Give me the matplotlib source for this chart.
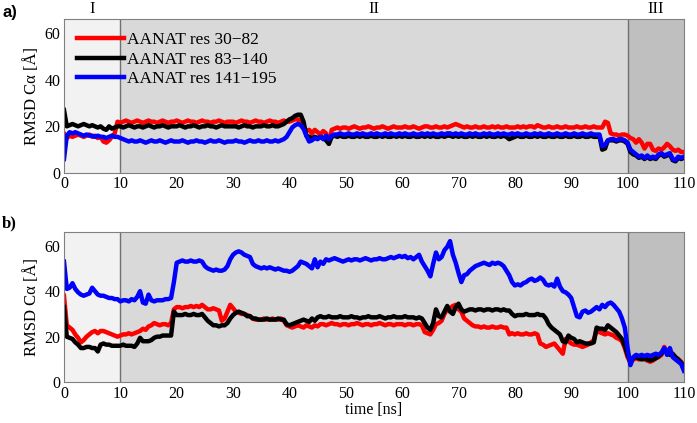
import numpy as np
import matplotlib
matplotlib.use('Agg')
import matplotlib.pyplot as plt

plt.rcParams['font.family'] = ['Liberation Serif', 'DejaVu Serif']

# time axis, 0.5 ns steps
t = np.arange(0, 110.5, 0.5)

# panel a) values
red_a = [17,15,16,15.5,16,16.5,16,15.5,16,16.5,15.5,16,15,15.5,13.5,13,14,15.5,17,22,
         21.5,22,22.5,22,21.5,22,22.5,22,21.5,22,22.5,22,22,21.5,22,22.5,22,21.5,22,22,
         22.5,22,21.5,22,22.5,22,22,21.5,22,22.5,22,22,21.5,22,22,22.5,22,21.5,22,22,
         22,21.5,22,22.5,22,22,21.5,22,22.5,22,22,21.5,22,22.5,22,22,21.5,22,22.5,22,
         22,22.5,23,23,21,19,18,18.5,17,18.5,17.5,16.5,18,17,12.5,18.5,19,19.5,19,19.5,
         19.5,19,19.5,20,19.5,19,19.5,19.5,20,19.5,19,19.5,19.5,20,19.5,19,19.5,20,19.5,19.5,
         19.5,20,19.5,19.5,20,19.5,19,19.5,20,20,19.5,19.5,20,19.5,19.5,20,19.5,20,20.5,21,
         20.5,20,19.5,20,19.5,19.5,20,19.5,19.5,20,19.5,19.5,20,19.5,20,19.5,19.5,20,19.5,19.5,
         19.5,20,19.5,20,19.5,20,20,19.5,20.5,20,19.5,19.5,20,19.5,19.5,20,19.5,19.5,20,19.5,
         19.5,19.5,20,19.5,19.5,20,19.5,19.5,20,19.5,19.5,19.5,22,21.5,17,16.5,16.5,16,16.5,16.5,
         16,15,14.5,13,14.5,13,10.5,12.5,12.5,10,9.5,10.5,10,11,12.5,11.5,10,9.5,10,9,9]
black_a = [27,20,20.5,21,20.5,20,20.5,21,20.5,20,20.5,20,19.5,20,19,18.5,20,19,19.5,20,
           20,19.5,20,20.5,20,19.5,20,20,19.5,20,20.5,20,19.5,20,20,20.5,20,19.5,20,20,
           20,20.5,20,19.5,20,20,20.5,20,19.5,20,20,20.5,20,20,19.5,20,20.5,20,20,20,
           20,20,19.5,20,20.5,20,20,19.5,20,20,20,20.5,20,20,20.5,20,20,20.5,21,22,
           23,23.5,24.5,25,25,22,16,15.5,15,15.5,15,15.5,15,14,12.5,15.5,16,15.5,16,15.5,
           15.5,16,15.5,15.5,16,15.5,16,15.5,15.5,16,15.5,15.5,16,15.5,16,15.5,15.5,16,15.5,16,
           15.5,16,15.5,15.5,16,15.5,15.5,16,15.5,16,15.5,16,15.5,15.5,16,15.5,16,16,15.5,16,
           15.5,16,15.5,15.5,16,15.5,16,15.5,15.5,16,15.5,16,15.5,15.5,16,15.5,16,15.5,14.5,15,
           15.5,16,15.5,15.5,16,15.5,15.5,16,15.5,16,15.5,15.5,16,15.5,15.5,16,15.5,15.5,16,15.5,
           15.5,16,15.5,15.5,16,15.5,15.5,16,15.5,15.5,16,10,10.5,14,14,14,13.5,14,14,13.5,
           12.5,9,8,7.5,6.5,7,6,7,6,6.5,6,7.5,8,7,7.5,8,5.5,5,6.5,6,6.5]
blue_a = [6,16,17.5,17,17.5,17,16.5,16,16.5,16,16,15.5,16,15.5,15.5,15,15.5,16,15.5,15.5,
          15,14.5,14,13.5,14,13.5,13.5,14,13.5,13,13.5,14,13.5,13.5,14,13.5,13,13.5,14,13.5,
          13.5,13.5,14,13.5,13,13.5,13.5,14,13.5,13.5,13,13.5,14,13.5,13.5,14,13.5,13,13.5,13.5,
          13.5,14,13.5,13.5,13,13.5,14,13.5,13.5,14,13.5,13.5,14,13.5,13.5,14,13.5,14,14.5,15.5,
          17.5,19.5,20.5,21,20.5,19,16,13.5,14,15,14.5,15.5,14.5,16,14.5,16,16.5,16.5,17,16.5,
          16.5,17,16.5,16.5,17,16.5,17,16.5,16.5,17,16.5,17,16.5,16.5,17,16.5,17,16.5,16.5,17,
          16.5,17,16.5,16.5,17,16.5,16.5,17,16.5,17,16.5,17,16.5,16.5,17,16.5,17,17,16.5,17,
          16.5,17,16.5,16.5,17,16.5,17,16.5,16.5,17,16.5,17,16.5,16.5,17,16.5,17,16.5,16.5,17,
          16.5,17,16.5,16.5,17,16.5,16.5,17,16.5,17,16.5,16.5,17,16.5,16.5,17,16.5,16.5,17,16.5,
          16.5,17,16.5,16.5,17,16.5,16.5,17,16.5,16.5,16.5,11.5,12,14,14.5,14.5,14,14.5,14.5,14,
          13,10,9,8,7,7.5,6.5,7.5,6.5,7,6.5,8,8.5,7.5,8,8.5,6,5.5,7,6.5,7]

# panel b)
red_b = [38,25,24,23,21,19.5,17.5,18.5,20,21,22,22.5,21.5,22.5,22.5,22,21.5,21,20.5,20,
         20.5,21,21,21.5,21,21.5,22,22.5,23.5,23,24.5,25,26,25.5,25,25.5,25.5,25,26,32,
         33,33,32.5,33,33,33.5,33,33.5,33,34,33,32,32,32.5,32,31.5,27,28,31,34,
         32.5,31,30.5,30,30,29.5,29,28,27.5,27.5,27.5,28,27.5,27.5,28,27.5,27.5,28,27,25,
         24.5,24,24.5,25,24.5,24,25,24.5,24,25,24.5,25.5,25.5,25,25.5,26,25.5,25.5,25,25.5,
         25.5,25,25.5,25.5,26,25.5,25,25.5,25.5,25,25.5,25.5,26,25.5,25,25.5,25.5,25,25.5,25.5,
         25.5,25,25.5,25.5,25,25.5,25.5,25,22,21.5,21,23,25.5,26,27,30,32,32.5,33.5,34,
         32,31,28,27,26,25,24.5,24.5,24,24.5,24,24,24.5,24,24,24.5,24,24,21,21.5,
         21,21.5,21,21,21.5,21,21,21.5,21,17,16.5,15.5,16,16.5,17,15.5,14,12.5,19,18,
         17,16.5,16.5,16,15.5,16,16.5,17.5,18.5,23,22,21.5,21,21.5,21,20.5,19.5,19,18,15,
         11,8.5,10,10.5,10,10.5,10,9.5,9,9.5,10.5,11,12,15.5,13,12.5,12,11,10,9,7]
black_b = [33,20,19.5,19,17.5,16.5,15,15,15.5,15.5,15,15,13.5,16.5,17,16.5,16.5,16,16,16,
           16,16.5,16,16,16,15.5,17,19.5,18,18,18,18.5,19.5,20,20,20.5,20.5,20.5,20.5,31,
           29.5,29.5,29.5,30,29.5,29.5,30,29.5,29.5,30,28.5,27,26,25,25,24.5,25,25,26,28,
           29.5,30.5,31,30.5,30,29,29,28,28,27.5,27.5,27.5,28,27.5,27.5,27.5,28,27.5,27.5,25.5,
           25,25.5,26,26.5,27,27.5,27,26.5,28,27,28.5,29,28.5,28.5,29,28.5,28.5,28.5,29,28.5,
           28.5,28.5,29,28.5,28.5,28,28.5,28.5,29,28.5,28.5,28.5,29,28.5,28,28.5,28.5,29,28.5,28.5,
           28.5,29,28.5,28.5,28.5,28,28.5,28,26,24,23,26,32,29,28.5,31,33.5,31,30,33,
           34.5,32,31,31.5,32,32,31.5,32,32,31.5,32,32,31.5,32,32,31.5,32,31.5,31.5,30,
           29,29.5,29.5,29.5,30,29.5,29.5,29.5,30,29.5,29.5,28,25.5,24,23,22,21,18,17.5,20.5,
           19.5,19,17.5,18,17.5,17,17,17,17.5,24,23.5,23.5,23,25,24,23,22,20.5,19,16,
           12,9,10.5,11,10.5,10,10.5,10,9.5,10,10.5,11.5,12.5,14.5,13,12,12.5,11,10,8.5,6.5]
blue_b = [53,41,41.5,43.5,41,39.5,38.5,38,38.5,39,41.5,40,38.5,38,38,37.5,37,37,36.5,36.5,
          35.5,36,36,35.5,36.5,36,37.5,40,35,34.5,38.5,36,35.5,36,36,36,36.5,36.5,37,44,
          52.5,53,53.5,53,53,53.5,53,53,53.5,53,51,50,49.5,49,49.5,49,49,49.5,51,54,
          56,57,57.5,57,56,55.5,55,52,51,50.5,50,50.5,50,50.5,50,49.5,50,49.5,49,49,
          48.5,49,50,51,53,52.5,52,51,50,54,50.5,53,52,54,53.5,54,54.5,54,53.5,53,
          53.5,54,53.5,54,54,53.5,54,54.5,54,53.5,54,54,54.5,54,54,54.5,55,54.5,55,55.5,
          55,55.5,54.5,55,54,55,56,53,51,49,46.5,52,57,54,55,58,59.5,62,56,52.5,
          48,44,47,47.5,49,50,51,51.5,52,52.5,52,51.5,52.5,52,52.5,52,51,49,47,44,
          42.5,43,42.5,43.5,44,45,45.5,44.5,45,46,45,43,42.5,43,42,45.5,42,40,39.5,38.5,
          37,33,29,28.5,31,31.5,30.5,31,32,33,32,34,33,34.5,35,34,32.5,31,28,24,
          15,7.5,11,12,11.5,12,11.5,12,11.5,12,12.5,12,13,15,12,15,11,10,9,8,5]

labels = ['AANAT res 30\u221282', 'AANAT res 83\u2212140', 'AANAT res 141\u2212195']
colors = ['#ff0000', '#000000', '#0000ff']
regions = [(0, 10, '#f2f2f2', 'I'), (10, 100, '#d9d9d9', 'II'), (100, 110, '#bfbfbf', 'III')]

fig = plt.figure(figsize=(6.97, 4.23), dpi=100)
ax_a = fig.add_axes([0.0918, 0.591, 0.8895, 0.364])
ax_b = fig.add_axes([0.0918, 0.0965, 0.8895, 0.355])

for ax, series in [(ax_a, [red_a, black_a, blue_a]), (ax_b, [red_b, black_b, blue_b])]:
    for x0, x1, c, _ in regions:
        ax.axvspan(x0, x1, color=c, zorder=0, lw=0)
    ax.axvline(10, color='#707070', lw=1, zorder=1)
    ax.axvline(100, color='#707070', lw=1, zorder=1)
    for vals, c, lab in zip(series, colors, labels):
        assert len(vals) == len(t)
        ax.plot(t, vals, color=c, lw=3.2, label=lab, zorder=2, solid_joinstyle='round')
    ax.set_xlim(0, 110)
    ax.set_ylim(0, 66)
    ax.set_xticks(np.arange(0, 111, 10))
    ax.set_yticks([0, 20, 40, 60])
    ax.tick_params(length=0, labelsize=11.5, pad=2.5)
    for s in ax.spines.values():
        s.set_color('#808080')
    ax.set_ylabel('RMSD C\u03b1 [\u00c5]', fontsize=12, labelpad=3)

for x0, x1, _, name in regions:
    ax_a.text((x0 + x1) / 2, 66.8, name, ha='center', va='bottom', fontsize=12)

ax_a.legend(loc='upper left', bbox_to_anchor=(0.0, 1.0), frameon=False, fontsize=12.5,
            handlelength=2.7, handletextpad=0.2, labelspacing=0.2, borderaxespad=0.35)
ax_b.set_xlabel('time [ns]', fontsize=11.5, labelpad=0)

fig.text(0.003, 0.97, 'a)', fontsize=12, fontweight='bold', family='Liberation Sans', va='center')
fig.text(0.003, 0.472, 'b)', fontsize=12, fontweight='bold', va='center')

fig.savefig('out.png', dpi=100)
